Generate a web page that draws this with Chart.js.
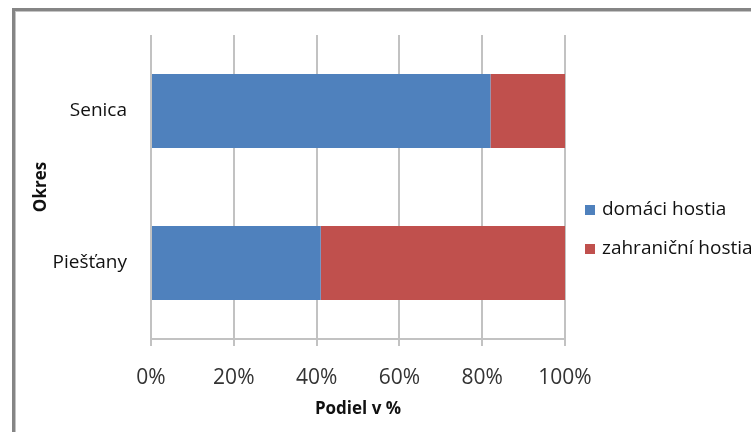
<!DOCTYPE html>
<html>
<head>
<meta charset="utf-8">
<script src="https://cdn.jsdelivr.net/npm/chart.js@4.4.1/dist/chart.umd.min.js"></script>
<style>
  html, body { margin: 0; padding: 0; background: #fff; overflow: hidden; width: 751px; height: 432px; }
  #frame { position: absolute; left: 12px; top: 8px; width: 800px; height: 500px;
           border-left: 3px solid #858585; border-top: 3px solid #858585;
           box-shadow: inset 1px 1px 0 #c4c4c4; }
  #chart { position: absolute; left: 0; top: 0; }
</style>
</head>
<body>
<div id="frame"></div>
<canvas id="chart" width="800" height="432"></canvas>
<script>
var okresy = ["Senica", "Piešťany"];
var domaci = [82, 41];
var zahranicni = [18, 59];
var seriesNames = ["domáci hostia", "zahraniční hostia"];
var seriesColors = ["#4F81BD", "#C0504D"];
var xTicks = [0, 20, 40, 60, 80, 100];

var font = "'Open Sans', 'DejaVu Sans', sans-serif";

// legend drawn next to the plot, like in the original
var sideLegend = {
    id: "sideLegend",
    afterDraw: function (chart) {
        var ctx = chart.ctx;
        var x = chart.chartArea.right + 20;
        var y = 210;
        ctx.save();
        ctx.font = "19px " + font;
        ctx.textBaseline = "middle";
        chart.data.datasets.forEach(function (ds) {
            ctx.fillStyle = ds.backgroundColor;
            ctx.fillRect(x, y - 5, 10, 10);
            ctx.fillStyle = "#111";
            ctx.fillText(ds.label, x + 17, y);
            y += 39;
        });
        ctx.restore();
    }
};

new Chart(document.getElementById("chart"), {
    type: "bar",
    data: {
        labels: okresy,
        datasets: [{
            label: seriesNames[0],
            backgroundColor: seriesColors[0],
            data: domaci
        }, {
            label: seriesNames[1],
            backgroundColor: seriesColors[1],
            data: zahranicni
        }]
    },
    options: {
        indexAxis: "y",
        responsive: false,
        animation: false,
        layout: { padding: { left: 16, top: 35, right: 235, bottom: 0 } },
        datasets: { bar: { barPercentage: 0.487, categoryPercentage: 1 } },
        plugins: {
            legend: { display: false },
            tooltip: { enabled: false }
        },
        scales: {
            x: {
                stacked: true,
                min: 0,
                max: 100,
                afterBuildTicks: function (scale) {
                    scale.ticks = xTicks.map(function (v) { return { value: v }; });
                },
                afterFit: function (scale) { scale.height = 93; },
                grid: { color: "#c2c2c2", lineWidth: 2, tickLength: 7 },
                border: { color: "#c2c2c2", width: 2 },
                ticks: {
                    padding: 19,
                    color: "#333",
                    font: { family: font, size: 21 },
                    callback: function (v) { return v + "%"; }
                },
                title: {
                    display: true,
                    text: "Podiel v %",
                    color: "#111",
                    font: { family: font, size: 17, weight: "bold" },
                    padding: { top: 0, bottom: 13 }
                }
            },
            y: {
                stacked: true,
                afterFit: function (scale) { scale.width = 135; },
                grid: { display: false },
                border: { display: false },
                ticks: {
                    padding: 16,
                    color: "#111",
                    font: { family: font, size: 19 }
                },
                title: {
                    display: true,
                    text: "Okres",
                    color: "#111",
                    font: { family: font, size: 17, weight: "bold" },
                    padding: { top: 15, bottom: 0 }
                }
            }
        }
    },
    plugins: [sideLegend]
});
</script>
</body>
</html>
